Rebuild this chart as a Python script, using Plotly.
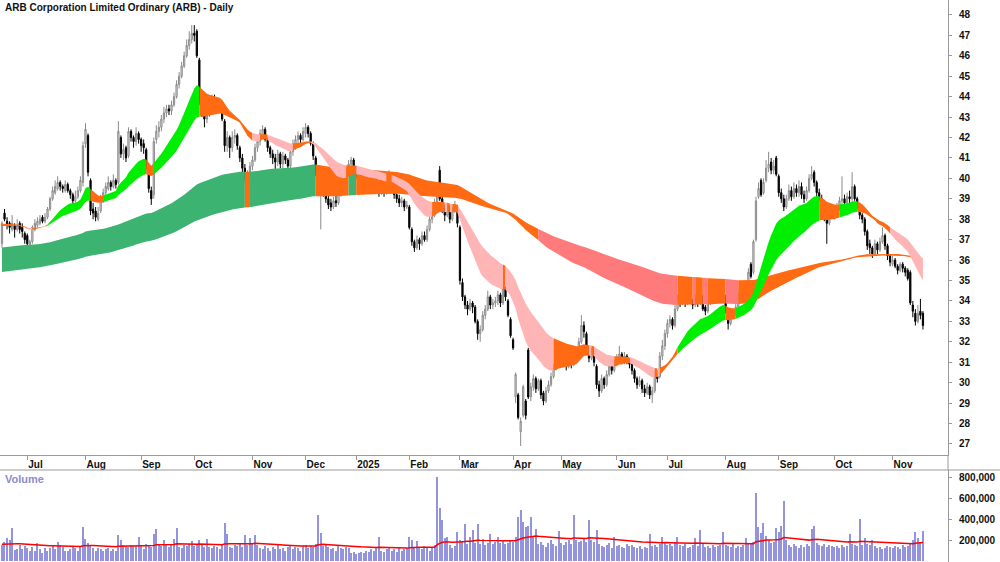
import pandas as pd
import plotly.graph_objects as go

TITLE = "ARB Corporation Limited Ordinary (ARB) - Daily"

# ASX trading days shown on the chart
HOLIDAYS = ["2024-12-25", "2024-12-26", "2025-01-01", "2025-01-27",
            "2025-04-18", "2025-04-21", "2025-04-25", "2025-06-09"]
DATES = [d for d in pd.bdate_range("2024-06-17", "2025-11-19")
         if d.strftime("%Y-%m-%d") not in HOLIDAYS]

# ---- daily prices, one line per month ----
OPEN = [
    36.8, 38.3, 37.9, 37.8, 37.5, 37.7, 37.5, 37.8, 37.6, 37.3,
    37.2, 36.7, 36.9, 37.5, 37.7, 37.8, 38.1, 37.9, 38.1, 38.5, 39.0, 39.3, 39.5, 39.8, 39.6, 39.4, 39.7, 39.4, 39.2, 38.9, 39.1, 39.4, 39.8,
    41.7, 42.1, 39.9, 38.5, 38.4, 38.0, 38.4, 39.0, 39.3, 39.5, 39.8, 39.6, 39.9, 39.8, 42.0, 41.2, 41.5, 41.1, 42.3, 42.0, 41.8, 42.2,
    41.9, 41.7, 41.4, 40.6, 39.4, 39.2, 41.9, 42.3, 42.5, 42.9, 43.2, 43.4, 43.3, 43.6, 44.0, 44.6, 45.0, 45.5, 46.0, 46.5, 46.8,
    47.1, 47.2, 45.8, 43.9, 43.3, 42.9, 43.2, 43.6, 43.9, 43.7, 43.5, 43.6, 42.8, 41.6, 42.0, 41.5, 42.0, 42.1, 41.5, 41.0, 40.5, 39.9, 40.1,
    40.6, 40.9, 41.5, 41.8, 42.1, 42.4, 41.9, 41.5, 41.2, 41.0, 40.8, 41.2, 40.7, 41.1, 40.9, 40.6, 41.3, 41.6, 41.9, 42.1, 41.9,
    42.2, 42.5, 42.2, 41.7, 41.0, 40.2, 39.5, 39.8, 39.4, 39.0, 38.8, 38.6, 38.9, 38.8, 39.2, 39.6, 39.9, 40.3, 40.7, 40.9,
    40.5, 40.2, 39.8, 40.1, 39.7, 39.9, 39.5, 39.9, 40.0, 39.6, 39.4, 39.8, 39.3, 39.9, 40.0, 39.5, 39.2, 39.0, 38.8, 38.9, 38.6,
    38.6, 37.5, 36.9, 36.6, 37.0, 36.8, 37.2, 37.0, 37.5, 38.0, 38.2, 38.8, 40.4, 39.0, 38.5, 38.2, 38.6, 38.0, 38.4, 38.6,
    37.6, 34.9, 34.2, 33.8, 33.6, 33.9, 33.7, 33.0, 32.4, 32.6, 33.3, 33.6, 34.2, 33.8, 33.9, 34.0, 34.3, 33.9, 34.6, 34.0, 33.1,
    32.1, 29.3, 29.4, 27.6, 28.4, 29.1, 31.6, 29.3, 29.8, 30.2, 29.7, 30.1, 29.5, 29.1, 29.6, 29.9, 30.3, 30.7, 31.0,
    31.2, 31.0, 31.3, 30.8, 31.1, 30.9, 31.4, 31.2, 32.0, 32.8, 32.4, 31.6, 31.2, 31.5, 30.8, 29.9, 29.6, 30.2, 29.9, 30.4, 30.8, 30.6,
    30.9, 31.2, 31.4, 31.0, 31.3, 31.1, 30.9, 30.6, 30.2, 29.9, 30.1, 29.7, 29.5, 29.8, 29.4, 29.6, 30.4, 30.3, 31.3, 31.8,
    32.4, 32.9, 33.1, 32.8, 33.6, 34.1, 33.9, 34.2, 33.9, 34.3, 34.0, 33.8, 34.1, 33.9, 34.2, 33.7, 33.5, 33.9, 34.2, 34.5, 34.7, 34.4, 34.6,
    34.2, 33.5, 32.9, 33.3, 33.4, 33.7, 34.3, 34.6, 34.2, 34.8, 35.8, 35.4, 37.0, 39.1, 39.9, 39.3, 39.9, 40.5, 40.8, 40.4, 41.0,
    40.1, 39.3, 39.0, 38.6, 39.0, 39.4, 39.1, 39.5, 39.3, 39.6, 39.2, 39.0, 39.4, 40.0, 40.3, 39.8, 39.3, 39.0, 38.4, 38.1, 37.8, 38.3,
    38.5, 38.2, 38.6, 38.9, 39.0, 38.8, 39.1, 39.0, 39.6, 39.0, 38.7, 38.2, 38.0, 37.4, 36.8, 36.6, 36.3, 36.8, 36.5, 36.9, 37.2, 36.7, 36.2,
    35.8, 36.0, 35.7, 35.5, 35.8, 35.6, 35.5, 35.4, 33.8, 33.4, 33.0, 33.5, 33.4,
]
HIGH = [
    37.9, 38.5, 38.1, 37.9, 38.2, 37.8, 38.0, 37.9, 37.8, 37.4,
    37.3, 37.0, 37.7, 38.0, 38.1, 38.2, 38.2, 38.3, 38.6, 39.1, 39.6, 39.9, 40.1, 39.9, 39.7, 39.9, 39.8, 39.5, 39.3, 39.4, 39.6, 40.1, 41.8,
    42.7, 42.2, 40.0, 38.8, 38.6, 38.6, 39.2, 39.5, 39.8, 40.1, 39.9, 40.2, 40.0, 42.8, 42.1, 41.7, 41.6, 42.5, 42.4, 42.1, 42.5, 42.3,
    42.0, 41.9, 41.5, 40.7, 39.6, 42.0, 42.6, 42.8, 43.1, 43.5, 43.6, 43.6, 43.8, 44.2, 44.8, 45.2, 45.7, 46.2, 46.8, 47.2, 47.5,
    47.5, 47.3, 45.9, 44.2, 43.6, 43.5, 43.9, 44.1, 44.1, 43.9, 43.9, 43.8, 42.9, 42.3, 42.1, 42.3, 42.4, 42.2, 41.6, 41.2, 40.7, 40.4, 40.8,
    41.1, 41.7, 42.0, 42.4, 42.6, 42.5, 42.0, 41.6, 41.4, 41.2, 41.4, 41.3, 41.3, 41.2, 41.0, 41.5, 41.9, 42.1, 42.3, 42.2, 42.5,
    42.7, 42.6, 42.3, 41.8, 41.1, 40.3, 40.1, 39.9, 39.6, 39.2, 39.0, 39.1, 39.2, 39.4, 39.8, 40.1, 40.5, 40.9, 41.05, 41.0,
    40.6, 40.3, 40.3, 40.2, 40.1, 40.0, 40.1, 40.3, 40.1, 39.8, 40.0, 39.9, 40.1, 40.4, 40.1, 39.6, 39.4, 39.2, 39.1, 39.0, 38.9,
    38.7, 37.6, 37.0, 37.2, 37.1, 37.4, 37.4, 37.7, 38.2, 38.4, 39.0, 39.4, 40.6, 39.1, 38.7, 38.8, 38.7, 38.6, 38.9, 38.7,
    37.7, 35.1, 34.3, 34.0, 34.1, 34.0, 33.8, 33.1, 32.8, 33.5, 33.8, 34.5, 34.3, 34.1, 34.2, 34.5, 34.4, 34.9, 34.7, 34.1, 33.2,
    32.2, 30.5, 29.5, 28.3, 29.9, 29.2, 31.7, 30.0, 30.4, 30.3, 30.2, 30.2, 29.6, 29.8, 30.1, 30.5, 30.9, 31.2, 31.4,
    31.4, 31.5, 31.4, 31.3, 31.2, 31.6, 31.5, 32.2, 33.3, 33.0, 32.5, 31.8, 31.7, 31.6, 30.9, 30.1, 30.4, 30.3, 30.6, 31.0, 31.0, 31.1,
    31.4, 31.8, 31.5, 31.5, 31.4, 31.2, 31.0, 30.7, 30.3, 30.3, 30.2, 29.9, 30.0, 29.9, 29.8, 30.6, 30.6, 31.5, 32.1, 32.6,
    33.1, 33.3, 33.2, 33.8, 34.3, 34.2, 34.4, 34.3, 34.5, 34.4, 34.1, 34.3, 34.2, 34.5, 34.3, 33.8, 34.1, 34.4, 34.8, 34.9, 34.9, 34.8, 34.8,
    34.3, 33.6, 33.5, 33.6, 33.9, 34.5, 34.8, 34.7, 35.0, 35.6, 35.9, 37.0, 39.1, 39.8, 40.0, 40.0, 40.9, 41.3, 41.0, 40.9, 41.1,
    40.2, 39.5, 39.2, 39.2, 39.7, 39.6, 39.8, 39.7, 39.9, 39.8, 39.4, 39.6, 40.2, 40.6, 40.4, 39.9, 39.5, 39.2, 38.6, 38.3, 38.6, 38.7,
    38.7, 38.8, 39.1, 40.1, 39.2, 39.3, 39.4, 40.3, 39.7, 39.1, 38.8, 38.3, 38.1, 37.5, 37.0, 36.7, 37.0, 36.9, 37.1, 37.6, 37.3, 36.8, 36.3,
    36.2, 36.1, 35.8, 35.9, 35.9, 35.7, 35.6, 35.5, 34.0, 33.6, 33.8, 34.1, 33.5,
]
LOW = [
    36.6, 37.9, 37.5, 37.3, 37.4, 37.1, 37.4, 37.3, 37.1, 36.8,
    36.6, 36.4, 36.8, 37.4, 37.6, 37.7, 37.8, 37.8, 38.0, 38.4, 38.9, 39.2, 39.4, 39.4, 39.3, 39.3, 39.3, 39.0, 38.7, 38.8, 39.0, 39.3, 39.6,
    41.5, 40.1, 38.2, 38.0, 37.9, 37.9, 38.3, 38.8, 39.1, 39.4, 39.4, 39.5, 39.5, 39.7, 41.0, 40.9, 40.8, 41.0, 41.8, 41.5, 41.6, 41.7,
    41.3, 41.2, 40.4, 39.3, 38.7, 39.0, 41.7, 42.0, 42.3, 42.7, 43.0, 43.1, 43.1, 43.5, 43.9, 44.4, 44.9, 45.4, 45.9, 46.3, 46.6,
    46.7, 45.9, 43.6, 43.0, 42.5, 42.7, 43.0, 43.4, 43.5, 43.2, 43.3, 42.8, 41.3, 41.3, 41.0, 41.3, 41.7, 41.4, 40.8, 40.3, 39.8, 39.7, 39.9,
    40.4, 40.8, 41.3, 41.6, 42.0, 41.8, 41.3, 41.0, 40.7, 40.2, 40.6, 40.5, 40.5, 40.7, 40.4, 40.5, 41.1, 41.4, 41.7, 41.7, 41.8,
    42.0, 42.0, 41.6, 40.9, 40.1, 39.3, 37.5, 39.1, 38.8, 38.5, 38.4, 38.5, 38.6, 38.7, 39.1, 39.5, 39.8, 40.2, 40.5, 40.3,
    40.0, 39.6, 39.6, 39.5, 39.5, 39.3, 39.4, 39.7, 39.4, 39.1, 39.2, 39.1, 39.2, 39.7, 39.4, 39.0, 38.8, 38.6, 38.6, 38.4, 38.5,
    37.5, 36.7, 36.4, 36.5, 36.5, 36.7, 36.9, 36.9, 37.4, 37.8, 38.1, 38.7, 38.9, 38.3, 37.9, 38.1, 37.8, 37.9, 38.3, 37.6,
    34.8, 34.0, 33.6, 33.3, 33.5, 33.4, 32.9, 32.1, 32.0, 32.5, 33.1, 33.5, 33.6, 33.6, 33.7, 33.8, 33.7, 33.8, 34.0, 33.2, 32.2,
    31.6, 29.0, 28.2, 26.9, 28.3, 28.2, 29.2, 29.1, 29.6, 29.5, 29.6, 29.2, 28.9, 29.0, 29.5, 29.8, 30.2, 30.6, 30.9,
    30.8, 30.8, 30.6, 30.7, 30.7, 30.8, 31.0, 31.1, 31.9, 32.2, 31.4, 31.0, 31.1, 30.8, 29.7, 29.3, 29.5, 29.7, 29.8, 30.3, 30.4, 30.5,
    30.8, 31.1, 30.9, 30.9, 30.9, 30.7, 30.4, 30.0, 29.7, 29.8, 29.5, 29.3, 29.4, 29.2, 29.0, 29.5, 30.0, 30.2, 31.1, 31.6,
    32.2, 32.7, 32.6, 32.7, 33.5, 33.7, 33.8, 33.7, 33.8, 33.9, 33.6, 33.7, 33.7, 33.8, 33.5, 33.3, 33.4, 33.8, 34.1, 34.3, 34.2, 34.2, 34.1,
    33.4, 32.6, 32.8, 33.1, 33.3, 33.6, 34.1, 34.0, 34.1, 34.7, 35.1, 35.3, 36.9, 39.0, 39.1, 39.2, 39.8, 40.3, 40.2, 40.2, 40.1,
    39.1, 38.8, 38.4, 38.5, 38.9, 38.9, 39.0, 39.1, 39.1, 39.0, 38.8, 38.9, 39.3, 39.9, 39.6, 39.1, 38.9, 38.2, 37.9, 36.8, 37.7, 38.1,
    38.0, 38.1, 38.4, 38.7, 38.6, 38.7, 38.8, 38.9, 38.9, 38.5, 38.0, 37.8, 37.2, 36.5, 36.3, 36.1, 36.2, 36.3, 36.4, 36.8, 36.5, 36.0, 35.7,
    35.7, 35.6, 35.3, 35.4, 35.4, 35.2, 35.0, 33.8, 33.2, 32.8, 32.9, 33.1, 32.6,
]
CLOSE = [
    37.8, 38.0, 37.7, 37.6, 37.8, 37.5, 37.7, 37.5, 37.4, 37.0,
    36.8, 36.9, 37.6, 37.8, 37.9, 38.0, 37.9, 38.1, 38.5, 39.0, 39.4, 39.6, 39.8, 39.6, 39.5, 39.7, 39.4, 39.2, 38.9, 39.1, 39.4, 39.9, 41.6,
    42.4, 40.3, 38.4, 38.3, 38.1, 38.3, 39.0, 39.3, 39.6, 39.8, 39.6, 39.9, 39.7, 42.3, 41.2, 41.4, 41.0, 42.3, 42.0, 41.8, 42.2, 41.9,
    41.6, 41.5, 40.6, 39.5, 39.0, 41.8, 42.3, 42.5, 42.9, 43.2, 43.4, 43.3, 43.6, 44.0, 44.6, 45.0, 45.5, 46.0, 46.5, 46.8, 47.1,
    47.0, 46.0, 43.8, 43.4, 42.9, 43.2, 43.6, 43.8, 43.7, 43.5, 43.7, 42.9, 41.6, 42.0, 41.5, 42.0, 42.1, 41.6, 41.0, 40.5, 40.0, 40.1, 40.6,
    40.9, 41.5, 41.8, 42.2, 42.4, 41.9, 41.5, 41.2, 41.0, 40.8, 41.2, 40.7, 41.1, 40.9, 40.6, 41.3, 41.7, 41.9, 42.1, 41.9, 42.3,
    42.5, 42.2, 41.7, 41.1, 40.3, 39.6, 39.9, 39.3, 39.0, 38.7, 38.6, 38.9, 38.8, 39.2, 39.6, 39.9, 40.3, 40.7, 40.9, 40.5,
    40.2, 39.8, 40.1, 39.7, 39.9, 39.5, 39.9, 40.0, 39.6, 39.4, 39.8, 39.3, 39.9, 40.0, 39.5, 39.2, 39.0, 38.8, 38.9, 38.6, 38.7,
    37.6, 36.9, 36.6, 37.0, 36.8, 37.2, 37.0, 37.5, 38.0, 38.2, 38.8, 39.2, 39.0, 38.5, 38.2, 38.6, 38.0, 38.4, 38.7, 37.8,
    35.0, 34.2, 33.8, 33.6, 33.9, 33.7, 33.0, 32.4, 32.6, 33.3, 33.6, 34.2, 33.8, 33.9, 34.0, 34.3, 33.9, 34.6, 34.2, 33.3, 32.3,
    31.7, 30.4, 28.3, 28.1, 29.8, 28.4, 29.3, 29.8, 30.2, 29.7, 30.1, 29.4, 29.1, 29.6, 29.9, 30.3, 30.7, 31.0, 31.2,
    31.0, 31.3, 30.8, 31.1, 30.9, 31.4, 31.2, 32.0, 32.8, 32.5, 31.6, 31.2, 31.5, 31.0, 29.9, 29.6, 30.2, 29.9, 30.4, 30.8, 30.6, 30.9,
    31.2, 31.4, 31.0, 31.3, 31.1, 30.9, 30.6, 30.2, 29.9, 30.1, 29.7, 29.5, 29.8, 29.4, 29.6, 30.4, 30.2, 31.3, 31.8, 32.4,
    32.9, 33.1, 32.8, 33.6, 34.1, 33.9, 34.2, 33.9, 34.3, 34.0, 33.8, 34.1, 33.9, 34.3, 33.6, 33.5, 33.9, 34.2, 34.5, 34.7, 34.4, 34.6, 34.3,
    33.5, 32.9, 33.3, 33.4, 33.7, 34.3, 34.6, 34.2, 34.8, 35.4, 35.2, 36.9, 38.9, 39.5, 39.2, 39.8, 40.5, 40.7, 40.4, 40.6, 40.2,
    39.3, 39.0, 38.6, 39.0, 39.4, 39.1, 39.5, 39.3, 39.6, 39.2, 39.0, 39.4, 40.0, 40.2, 39.8, 39.3, 39.1, 38.4, 38.1, 37.8, 38.3, 38.5,
    38.2, 38.6, 38.9, 39.0, 38.8, 39.1, 39.0, 39.6, 39.0, 38.7, 38.2, 38.0, 37.4, 36.7, 36.6, 36.3, 36.8, 36.5, 36.9, 37.2, 36.7, 36.2, 35.9,
    36.0, 35.7, 35.5, 35.8, 35.6, 35.4, 35.1, 33.9, 33.5, 33.0, 33.4, 33.3, 32.8,
]
VOLUME_K = [
    150, 185, 215, 200, 310, 105, 110, 150, 110, 140,
    120, 95, 130, 100, 170, 110, 80, 120, 100, 120, 140, 110, 180, 150, 130, 100, 95, 110, 140, 120, 100, 140, 320,
    205, 175, 140, 120, 100, 120, 110, 100, 110, 120, 100, 110, 100, 250, 200, 150, 140, 130, 150, 145, 140, 230,
    150, 110, 160, 140, 130, 255, 305, 160, 140, 200, 150, 130, 160, 205, 315, 130, 120, 150, 140, 160, 195,
    140, 150, 200, 160, 130, 205, 130, 120, 140, 130, 110, 150, 365, 255, 130, 120, 150, 140, 160, 130, 245, 150, 215,
    160, 245, 150, 120, 110, 140, 120, 100, 130, 110, 150, 110, 120, 100, 130, 140, 110, 130, 120, 100, 140,
    150, 120, 140, 130, 160, 435, 270, 140, 150, 130, 110, 120, 100, 140, 120, 110, 130, 120, 80, 90,
    70, 80, 90, 80, 100, 90, 110, 100, 120, 225, 100, 90, 110, 120, 100, 110, 90, 120, 100, 110, 120,
    230, 200, 120, 190, 130, 110, 140, 120, 100, 130, 150, 800, 505, 390, 215, 225, 150, 120, 140, 280,
    200, 180, 350, 160, 225, 300, 170, 350, 160, 205, 150, 170, 255, 160, 180, 225, 170, 200, 160, 170, 190,
    180, 230, 420, 485, 375, 325, 335, 420, 230, 305, 160, 180, 150, 130, 170, 200, 160, 140, 290,
    170, 150, 180, 200, 160, 435, 200, 180, 190, 210, 180, 390, 200, 180, 300, 160, 140, 130, 150, 170, 120, 225,
    140, 150, 130, 120, 160, 140, 150, 130, 120, 140, 110, 130, 120, 255, 140, 150, 130, 160, 225, 170,
    150, 160, 140, 180, 230, 150, 140, 160, 120, 130, 150, 215, 140, 295, 160, 130, 140, 120, 150, 130, 140, 150, 275,
    150, 140, 130, 160, 120, 140, 130, 150, 215, 170, 160, 180, 645, 325, 265, 360, 240, 200, 170, 180, 310,
    280, 335, 570, 200, 150, 130, 160, 140, 120, 150, 130, 160, 140, 305, 335, 170, 150, 140, 160, 130, 150, 140,
    130, 140, 120, 150, 130, 140, 255, 160, 150, 140, 400, 150, 215, 160, 150, 200, 140, 120, 130, 110, 120, 140, 130,
    120, 140, 130, 110, 150, 130, 140, 170, 200, 280, 215, 180, 285,
]

# Moving-average groups with starting values read at the left edge
SHORT_PERIODS = [20, 23, 26, 30, 34, 40]
SHORT_START = [37.72, 37.76, 37.74, 37.70, 37.68, 37.66]
LONG_PERIODS = [145, 165, 185, 205, 230, 255]
LONG_START = [36.6, 36.35, 36.1, 35.85, 35.65, 35.4]
VOL_MA_PERIOD = 50
VOL_MA_START_K = 160

SHORT_COLORS = {"bull": "#00ee00", "mix": "#ff6a13", "bear": "#ffb5b5"}
LONG_COLORS = {"bull": "#3cb371", "mix": "#ff6a13", "bear": "#ff7b7b"}

n = len(CLOSE)
assert all(len(a) == n for a in (OPEN, HIGH, LOW, VOLUME_K, DATES)), \
    [len(a) for a in (OPEN, HIGH, LOW, CLOSE, VOLUME_K, DATES)]
IDX = list(range(n))


def ema(values, period, start):
    a = 2.0 / (period + 1)
    out, v = [], start
    for c in values:
        v = v + a * (c - v)
        out.append(v)
    return out


def band_traces(periods, starts, colors):
    lines = [ema(CLOSE, p, s) for p, s in zip(periods, starts)]
    upper, lower, state = [], [], []
    for i in range(n):
        vals = [ln[i] for ln in lines]
        prev = [ln[i - 1] if i > 0 else s for ln, s in zip(lines, starts)]
        upper.append(max(vals))
        lower.append(min(vals))
        rising = all(v > p for v, p in zip(vals, prev))
        falling = all(v < p for v, p in zip(vals, prev))
        bull_order = all(vals[k] > vals[k + 1] for k in range(len(vals) - 1))
        bear_order = all(vals[k] < vals[k + 1] for k in range(len(vals) - 1))
        if rising and bull_order:
            state.append("bull")
        elif falling and bear_order:
            state.append("bear")
        else:
            state.append("mix")
    traces = []
    start = 0
    for i in range(1, n + 1):
        if i == n or state[i] != state[start]:
            end = min(i, n - 1)
            xs = IDX[start:end + 1]
            ys_up = upper[start:end + 1]
            ys_lo = lower[start:end + 1]
            traces.append(go.Scatter(
                x=xs + xs[::-1], y=ys_up + ys_lo[::-1],
                fill="toself", fillcolor=colors[state[start]],
                line=dict(width=0), mode="lines", hoverinfo="skip",
                showlegend=False, xaxis="x", yaxis="y"))
            start = i
    return traces


fig = go.Figure()
for t in band_traces(LONG_PERIODS, LONG_START, LONG_COLORS):
    fig.add_trace(t)
for t in band_traces(SHORT_PERIODS, SHORT_START, SHORT_COLORS):
    fig.add_trace(t)

fig.add_trace(go.Candlestick(
    x=IDX, open=OPEN, high=HIGH, low=LOW, close=CLOSE,
    increasing=dict(line=dict(color="#8a8a8a", width=1), fillcolor="#e6e6e6"),
    decreasing=dict(line=dict(color="#000000", width=1), fillcolor="#000000"),
    whiskerwidth=0, hoverinfo="skip", showlegend=False, xaxis="x", yaxis="y"))

VOLUME = [v * 1000 for v in VOLUME_K]
vol_ma = ema(VOLUME, VOL_MA_PERIOD, VOL_MA_START_K * 1000)
fig.add_trace(go.Bar(x=IDX, y=VOLUME, width=0.45,
                     marker=dict(color="#9393de", line=dict(width=0)),
                     hoverinfo="skip", showlegend=False, xaxis="x2", yaxis="y2"))
fig.add_trace(go.Scatter(x=IDX, y=vol_ma, mode="lines",
                         line=dict(color="#ff0000", width=1.5),
                         hoverinfo="skip", showlegend=False, xaxis="x2", yaxis="y2"))

# month ticks at first trading day of each month
month_idx, month_lbl = [], []
for i, d in enumerate(DATES):
    if i > 0 and d.month != DATES[i - 1].month:
        month_idx.append(i)
        month_lbl.append(str(d.year) if d.month == 1 else d.strftime("%b"))

W, H = 1000, 562
PLOT_RIGHT = 948 / W
PRICE_BOTTOM = 1 - 455 / H
VOL_TOP = 92 / H
XR = [-0.79, 373.9]
AX = "#9a9a9a"
TFONT = dict(family="Arial, Liberation Sans", size=10, color="#111111", weight="bold")

PRICE_TICKS = list(range(27, 49))
VOL_TICKS = [200000, 400000, 600000, 800000]

fig.update_layout(
    width=W, height=H, margin=dict(l=0, r=0, t=0, b=0),
    paper_bgcolor="white", plot_bgcolor="white", showlegend=False,
    bargap=0,
    xaxis=dict(domain=[0, PLOT_RIGHT], range=XR, anchor="y",
               showgrid=False, zeroline=False, showline=True, linecolor=AX, linewidth=1,
               ticks="outside", ticklen=4, tickcolor=AX,
               tickvals=month_idx, ticktext=month_lbl, tickfont=TFONT,
               ticklabelposition="outside right",
               rangeslider=dict(visible=False), fixedrange=True),
    yaxis=dict(domain=[PRICE_BOTTOM, 1], range=[26.46, 48.73], side="right", anchor="x",
               showgrid=False, zeroline=False, showline=True, linecolor=AX, linewidth=1,
               ticks="outside", ticklen=3, tickcolor=AX,
               tickvals=PRICE_TICKS, ticktext=[str(v) for v in PRICE_TICKS],
               tickfont=TFONT, ticklabelstandoff=5, fixedrange=True),
    xaxis2=dict(domain=[0, PLOT_RIGHT], range=XR, anchor="y2",
                showgrid=False, zeroline=False, showline=False, showticklabels=False,
                ticks="", fixedrange=True),
    yaxis2=dict(domain=[0, VOL_TOP], range=[-9500, 866700], side="right", anchor="x2",
                showgrid=False, zeroline=False, showline=True, linecolor=AX, linewidth=1,
                ticks="outside", ticklen=3, tickcolor=AX,
                tickvals=VOL_TICKS, ticktext=[f"{v:,}" for v in VOL_TICKS],
                tickfont=TFONT, ticklabelstandoff=5, fixedrange=True),
    shapes=[
        dict(type="line", xref="paper", yref="paper", x0=0, x1=1, y0=VOL_TOP, y1=VOL_TOP,
             line=dict(color=AX, width=1)),
        dict(type="line", xref="paper", yref="paper", x0=PLOT_RIGHT, x1=PLOT_RIGHT,
             y0=VOL_TOP, y1=PRICE_BOTTOM, line=dict(color=AX, width=1)),
    ],
    annotations=[
        dict(text=TITLE, xref="paper", yref="paper", x=0.003, y=1, xanchor="left",
             yanchor="top", showarrow=False,
             font=dict(family="Arial, Liberation Sans", size=10, color="#111111", weight="bold")),
        dict(text="Volume", xref="paper", yref="paper", x=0.003, y=VOL_TOP, xanchor="left",
             yanchor="top", showarrow=False, yshift=-1,
             font=dict(family="Arial, Liberation Sans", size=11, color="#8c8cc8", weight="bold")),
    ],
)

fig.write_html("out.html")
